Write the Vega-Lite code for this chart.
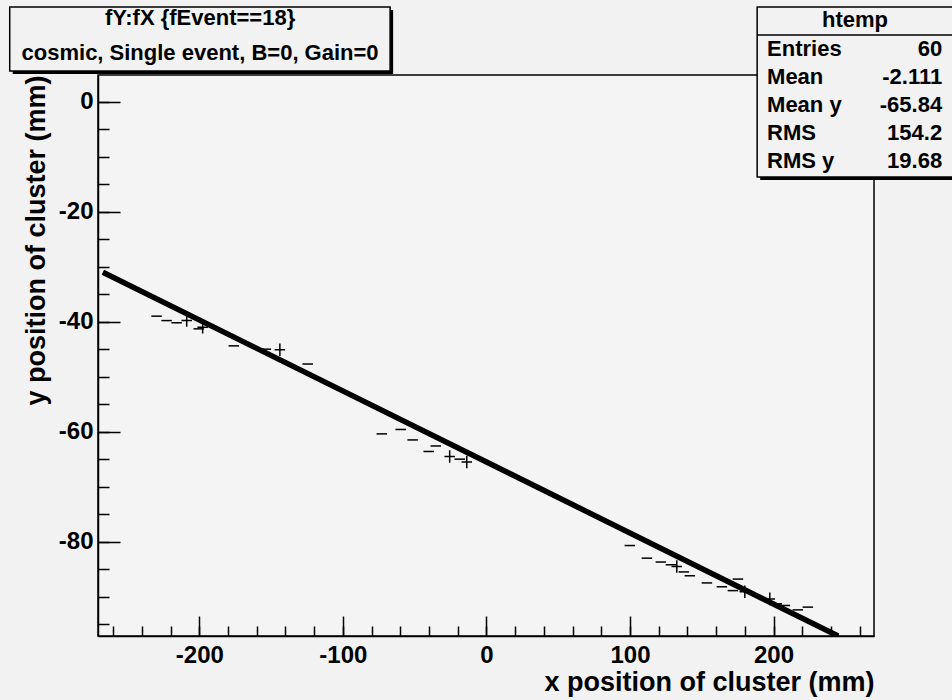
{
  "$schema": "https://vega.github.io/schema/vega-lite/v6.json",
  "autosize": "none",
  "width": 776,
  "height": 561,
  "padding": {"left": 98, "top": 75, "right": 78, "bottom": 64},
  "background": "#f2f2f2",
  "config": {
    "view": {"stroke": "black", "strokeWidth": 1.5, "fill": "#f4f4f4"},
    "font": "Liberation Sans",
    "axis": {
      "labelFont": "Liberation Sans", "labelFontWeight": "bold", "labelFontSize": 24, "labelColor": "black",
      "titleFont": "Liberation Sans", "titleFontWeight": "bold", "titleFontSize": 27, "titleColor": "black",
      "domainColor": "black", "domainWidth": 1.5, "tickColor": "black", "tickWidth": 1.5, "grid": false
    }
  },
  "data": {"values": [
    {"x": -229.8, "y": -39.0, "m": "dash"},
    {"x": -222.8, "y": -39.8, "m": "dash"},
    {"x": -215.8, "y": -40.2, "m": "dash"},
    {"x": -208.8, "y": -39.8, "m": "plus"},
    {"x": -200.4, "y": -41.3, "m": "dash"},
    {"x": -197.7, "y": -41.0, "m": "plus"},
    {"x": -176.0, "y": -44.4, "m": "dash"},
    {"x": -153.7, "y": -45.0, "m": "dash"},
    {"x": -143.9, "y": -45.1, "m": "plus"},
    {"x": -124.5, "y": -47.7, "m": "dash"},
    {"x": -72.9, "y": -60.4, "m": "dash"},
    {"x": -59.7, "y": -59.6, "m": "dash"},
    {"x": -51.4, "y": -61.5, "m": "dash"},
    {"x": -40.2, "y": -63.6, "m": "dash"},
    {"x": -35.3, "y": -62.6, "m": "dash"},
    {"x": -25.6, "y": -64.5, "m": "plus"},
    {"x": -18.6, "y": -65.0, "m": "dash"},
    {"x": -13.7, "y": -65.5, "m": "plus"},
    {"x": 99.9, "y": -80.7, "m": "dash"},
    {"x": 111.8, "y": -83.0, "m": "dash"},
    {"x": 121.5, "y": -83.7, "m": "dash"},
    {"x": 128.5, "y": -84.2, "m": "dash"},
    {"x": 132.6, "y": -84.5, "m": "plus"},
    {"x": 137.5, "y": -85.5, "m": "dash"},
    {"x": 141.7, "y": -86.2, "m": "dash"},
    {"x": 153.6, "y": -87.5, "m": "dash"},
    {"x": 164.0, "y": -88.2, "m": "dash"},
    {"x": 171.7, "y": -88.9, "m": "dash"},
    {"x": 175.2, "y": -86.8, "m": "dash"},
    {"x": 180.0, "y": -89.1, "m": "plus"},
    {"x": 197.4, "y": -90.4, "m": "plus"},
    {"x": 202.3, "y": -91.3, "m": "dash"},
    {"x": 207.9, "y": -91.6, "m": "dash"},
    {"x": 216.9, "y": -92.4, "m": "dash"},
    {"x": 223.9, "y": -91.9, "m": "dash"}
  ]},
  "resolve": {"axis": {"x": "independent", "y": "independent"}},
  "layer": [
    {
      "mark": {"type": "point", "filled": false, "stroke": "black", "strokeWidth": 1.5, "opacity": 1, "size": 110},
      "encoding": {
        "x": {"field": "x", "type": "quantitative", "scale": {"domain": [-270.6, 270], "nice": false, "zero": false},
          "axis": {"values": [-200, -100, 0, 100, 200], "labelExpr": "toString(datum.value)", "tickSize": -20, "labelPadding": 27, "title": "x position of cluster (mm)", "titleAnchor": "end", "titlePadding": 2, "orient": "bottom"}},
        "y": {"field": "y", "type": "quantitative", "scale": {"domain": [-97.15, 4.85], "nice": false, "zero": false},
          "axis": {"values": [0, -20, -40, -60, -80], "labelExpr": "toString(datum.value)", "tickSize": -22, "labelPadding": 27, "title": "y position of cluster (mm)", "titleAnchor": "end", "titlePadding": 8, "orient": "left"}},
        "shape": {"field": "m", "type": "nominal", "scale": {"domain": ["dash", "plus"], "range": ["stroke", "M-1,0H1M0,-1.2V1.2"]}, "legend": null}
      }
    },
    {
      "data": {"values": [{"x": -267.2, "y": -31.0}, {"x": 245.0, "y": -97.15}]},
      "mark": {"type": "line", "color": "black", "strokeWidth": 5.5, "clip": true},
      "encoding": {
        "x": {"field": "x", "type": "quantitative", "scale": {"domain": [-270.6, 270], "nice": false, "zero": false},
          "axis": {"values": [-260, -240, -220, -200, -180, -160, -140, -120, -100, -80, -60, -40, -20, 0, 20, 40, 60, 80, 100, 120, 140, 160, 180, 200, 220, 240, 260], "tickSize": -10, "labels": false, "domain": false, "title": null, "orient": "bottom"}},
        "y": {"field": "y", "type": "quantitative", "scale": {"domain": [-97.15, 4.85], "nice": false, "zero": false},
          "axis": {"values": [-95, -90, -85, -80, -75, -70, -65, -60, -55, -50, -45, -40, -35, -30, -25, -20, -15, -10, -5, 0], "tickSize": -11, "labels": false, "domain": false, "title": null, "orient": "left"}}
      }
    },
    {
      "data": {"values": [{}]},
      "mark": {"type": "rect", "fill": "black"},
      "encoding": {
        "x": {"datum": -330.0, "type": "quantitative", "axis": null}, "x2": {"datum": -65.0},
        "y": {"datum": 16.67, "type": "quantitative", "axis": null}, "y2": {"datum": 5.04}
      }
    },
    {
      "data": {"values": [{}]},
      "mark": {"type": "rect", "fill": "#f2f2f2", "stroke": "black", "strokeWidth": 1.5},
      "encoding": {
        "x": {"datum": -332.1, "type": "quantitative", "axis": null}, "x2": {"datum": -67.1},
        "y": {"datum": 17.22, "type": "quantitative", "axis": null}, "y2": {"datum": 5.58}
      }
    },
    {
      "data": {"values": [{}]},
      "mark": {"type": "text", "font": "Liberation Sans", "fontWeight": "bold", "fontSize": 22, "align": "center", "baseline": "middle", "color": "black"},
      "encoding": {
        "x": {"datum": -199.5, "type": "quantitative", "axis": null},
        "y": {"datum": 15.2, "type": "quantitative", "axis": null},
        "text": {"value": "fY:fX {fEvent==18}"}
      }
    },
    {
      "data": {"values": [{}]},
      "mark": {"type": "text", "font": "Liberation Sans", "fontWeight": "bold", "fontSize": 22, "align": "center", "baseline": "middle", "color": "black"},
      "encoding": {
        "x": {"datum": -199.5, "type": "quantitative", "axis": null},
        "y": {"datum": 8.85, "type": "quantitative", "axis": null},
        "text": {"value": "cosmic, Single event, B=0, Gain=0"}
      }
    },
    {
      "data": {"values": [{}]},
      "mark": {"type": "rect", "fill": "black"},
      "encoding": {
        "x": {"datum": 190.7, "type": "quantitative", "axis": null}, "x2": {"datum": 332.2},
        "y": {"datum": 16.67, "type": "quantitative", "axis": null}, "y2": {"datum": -14.24}
      }
    },
    {
      "data": {"values": [{}]},
      "mark": {"type": "rect", "fill": "#f2f2f2", "stroke": "black", "strokeWidth": 1.5},
      "encoding": {
        "x": {"datum": 188.6, "type": "quantitative", "axis": null}, "x2": {"datum": 330.1},
        "y": {"datum": 17.22, "type": "quantitative", "axis": null}, "y2": {"datum": -13.69}
      }
    },
    {
      "data": {"values": [{}]},
      "mark": {"type": "rule", "color": "black", "strokeWidth": 1.5},
      "encoding": {
        "x": {"datum": 188.6, "type": "quantitative", "axis": null}, "x2": {"datum": 330.1},
        "y": {"datum": 12.13, "type": "quantitative", "axis": null}
      }
    },
    {
      "data": {"values": [{}]},
      "mark": {"type": "text", "font": "Liberation Sans", "fontWeight": "bold", "fontSize": 22, "align": "center", "baseline": "middle", "color": "black"},
      "encoding": {
        "x": {"datum": 256.8, "type": "quantitative", "axis": null},
        "y": {"datum": 14.85, "type": "quantitative", "axis": null},
        "text": {"value": "htemp"}
      }
    },
    {
      "data": {"values": [{}]},
      "mark": {"type": "text", "font": "Liberation Sans", "fontWeight": "bold", "fontSize": 22, "align": "left", "baseline": "top", "lineHeight": 28, "color": "black"},
      "encoding": {
        "x": {"datum": 195.5, "type": "quantitative", "axis": null},
        "y": {"datum": 11.4, "type": "quantitative", "axis": null},
        "text": {"value": ["Entries", "Mean", "Mean y", "RMS", "RMS y"]}
      }
    },
    {
      "data": {"values": [{}]},
      "mark": {"type": "text", "font": "Liberation Sans", "fontWeight": "bold", "fontSize": 22, "align": "right", "baseline": "top", "lineHeight": 28, "color": "black"},
      "encoding": {
        "x": {"datum": 317.5, "type": "quantitative", "axis": null},
        "y": {"datum": 11.4, "type": "quantitative", "axis": null},
        "text": {"value": ["60", "-2.111", "-65.84", "154.2", "19.68"]}
      }
    }
  ]
}
